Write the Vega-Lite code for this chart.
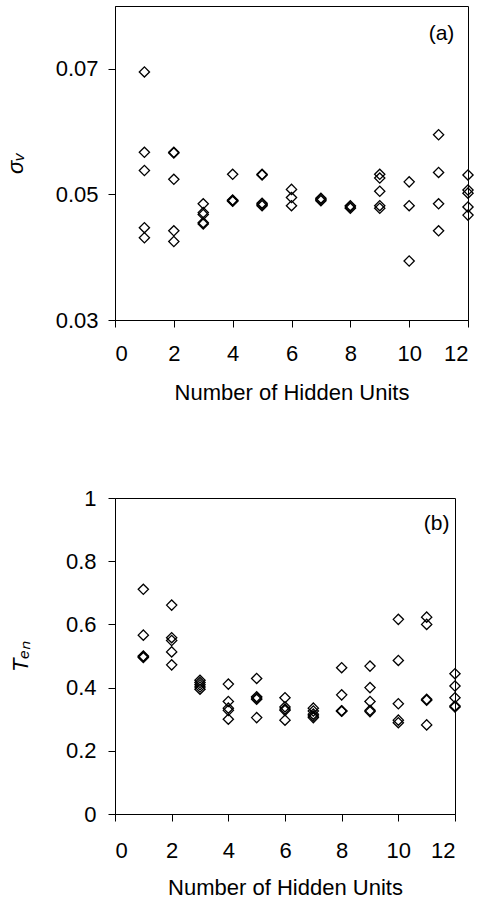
{
  "$schema": "https://vega.github.io/schema/vega-lite/v6.json",
  "background": "white",
  "padding": {"left": 3, "top": 5, "right": 5, "bottom": 5},
  "spacing": 82,
  "config": {
    "view": {"stroke": "black", "strokeWidth": 1},
    "font": "Liberation Sans",
    "axis": {
      "grid": false,
      "domainColor": "black",
      "tickColor": "black",
      "tickSize": 7,
      "labelColor": "black",
      "labelFont": "Liberation Sans",
      "labelFontSize": 22,
      "titleFont": "Liberation Sans",
      "titleFontSize": 22,
      "titleFontWeight": "normal",
      "titleColor": "black"
    }
  },
  "datasets": {
    "sigma": [
      {"units": 1, "sigma": 0.0695}, {"units": 1, "sigma": 0.0567}, {"units": 1, "sigma": 0.0538}, {"units": 1, "sigma": 0.0447}, {"units": 1, "sigma": 0.0431},
      {"units": 2, "sigma": 0.0567}, {"units": 2, "sigma": 0.0566}, {"units": 2, "sigma": 0.0524}, {"units": 2, "sigma": 0.0442}, {"units": 2, "sigma": 0.0425},
      {"units": 3, "sigma": 0.0485}, {"units": 3, "sigma": 0.0471}, {"units": 3, "sigma": 0.0468}, {"units": 3, "sigma": 0.0455}, {"units": 3, "sigma": 0.0453},
      {"units": 4, "sigma": 0.0532}, {"units": 4, "sigma": 0.0491}, {"units": 4, "sigma": 0.0490}, {"units": 4, "sigma": 0.0489}, {"units": 4, "sigma": 0.0490},
      {"units": 5, "sigma": 0.0532}, {"units": 5, "sigma": 0.0531}, {"units": 5, "sigma": 0.0486}, {"units": 5, "sigma": 0.0484}, {"units": 5, "sigma": 0.0482},
      {"units": 6, "sigma": 0.0508}, {"units": 6, "sigma": 0.0495}, {"units": 6, "sigma": 0.0482},
      {"units": 7, "sigma": 0.0494}, {"units": 7, "sigma": 0.0492}, {"units": 7, "sigma": 0.0490},
      {"units": 8, "sigma": 0.0482}, {"units": 8, "sigma": 0.0480}, {"units": 8, "sigma": 0.0478},
      {"units": 9, "sigma": 0.0532}, {"units": 9, "sigma": 0.0526}, {"units": 9, "sigma": 0.0505}, {"units": 9, "sigma": 0.0482}, {"units": 9, "sigma": 0.0478},
      {"units": 10, "sigma": 0.0520}, {"units": 10, "sigma": 0.0482}, {"units": 10, "sigma": 0.0394},
      {"units": 11, "sigma": 0.0595}, {"units": 11, "sigma": 0.0535}, {"units": 11, "sigma": 0.0485}, {"units": 11, "sigma": 0.0442},
      {"units": 12, "sigma": 0.0531}, {"units": 12, "sigma": 0.0507}, {"units": 12, "sigma": 0.0502}, {"units": 12, "sigma": 0.0480}, {"units": 12, "sigma": 0.0467}
    ],
    "ten": [
      {"units": 1, "ten": 0.711}, {"units": 1, "ten": 0.566}, {"units": 1, "ten": 0.500}, {"units": 1, "ten": 0.498}, {"units": 1, "ten": 0.495},
      {"units": 2, "ten": 0.661}, {"units": 2, "ten": 0.558}, {"units": 2, "ten": 0.549}, {"units": 2, "ten": 0.513}, {"units": 2, "ten": 0.472},
      {"units": 3, "ten": 0.423}, {"units": 3, "ten": 0.416}, {"units": 3, "ten": 0.409}, {"units": 3, "ten": 0.402}, {"units": 3, "ten": 0.395},
      {"units": 4, "ten": 0.411}, {"units": 4, "ten": 0.356}, {"units": 4, "ten": 0.335}, {"units": 4, "ten": 0.328}, {"units": 4, "ten": 0.300},
      {"units": 5, "ten": 0.429}, {"units": 5, "ten": 0.371}, {"units": 5, "ten": 0.367}, {"units": 5, "ten": 0.363}, {"units": 5, "ten": 0.305},
      {"units": 6, "ten": 0.368}, {"units": 6, "ten": 0.339}, {"units": 6, "ten": 0.332}, {"units": 6, "ten": 0.328}, {"units": 6, "ten": 0.297},
      {"units": 7, "ten": 0.335}, {"units": 7, "ten": 0.326}, {"units": 7, "ten": 0.316}, {"units": 7, "ten": 0.310}, {"units": 7, "ten": 0.305},
      {"units": 8, "ten": 0.463}, {"units": 8, "ten": 0.377}, {"units": 8, "ten": 0.327}, {"units": 8, "ten": 0.326}, {"units": 8, "ten": 0.325},
      {"units": 9, "ten": 0.468}, {"units": 9, "ten": 0.400}, {"units": 9, "ten": 0.356}, {"units": 9, "ten": 0.328}, {"units": 9, "ten": 0.324},
      {"units": 10, "ten": 0.616}, {"units": 10, "ten": 0.486}, {"units": 10, "ten": 0.349}, {"units": 10, "ten": 0.297}, {"units": 10, "ten": 0.289},
      {"units": 11, "ten": 0.623}, {"units": 11, "ten": 0.600}, {"units": 11, "ten": 0.363}, {"units": 11, "ten": 0.360}, {"units": 11, "ten": 0.282},
      {"units": 12, "ten": 0.444}, {"units": 12, "ten": 0.405}, {"units": 12, "ten": 0.368}, {"units": 12, "ten": 0.342}, {"units": 12, "ten": 0.339}
    ],
    "labelA": [{"label": "(a)", "units": 11.1, "sigma": 0.0755}],
    "labelB": [{"label": "(b)", "units": 11.35, "ten": 0.918}]
  },
  "vconcat": [
    {
      "width": 353,
      "height": 314,
      "layer": [
        {
          "data": {"name": "sigma"},
          "mark": {"type": "point", "shape": "diamond", "filled": false, "stroke": "black", "strokeWidth": 1.3, "size": 105, "opacity": 1},
          "encoding": {
            "x": {"field": "units", "type": "quantitative", "scale": {"domain": [0, 12], "nice": false},
                  "axis": {"values": [0, 2, 4, 6, 8, 10, 12], "title": "Number of Hidden Units", "labelPadding": 16, "titlePadding": 18}},
            "y": {"field": "sigma", "type": "quantitative", "scale": {"domain": [0.03, 0.08], "nice": false, "zero": false},
                  "axis": {"values": [0.03, 0.05, 0.07], "format": ".2f", "title": "σᵥ", "titleFontStyle": "italic", "labelPadding": 10, "titlePadding": 28}}
          }
        },
        {
          "data": {"name": "labelA"},
          "mark": {"type": "text", "font": "Liberation Sans", "fontSize": 21, "color": "black"},
          "encoding": {
            "x": {"field": "units", "type": "quantitative"},
            "y": {"field": "sigma", "type": "quantitative"},
            "text": {"field": "label"}
          }
        }
      ]
    },
    {
      "width": 340,
      "height": 316,
      "layer": [
        {
          "data": {"name": "ten"},
          "mark": {"type": "point", "shape": "diamond", "filled": false, "stroke": "black", "strokeWidth": 1.3, "size": 105, "opacity": 1},
          "encoding": {
            "x": {"field": "units", "type": "quantitative", "scale": {"domain": [0, 12], "nice": false},
                  "axis": {"values": [0, 2, 4, 6, 8, 10, 12], "title": "Number of Hidden Units", "labelPadding": 19, "titlePadding": 16}},
            "y": {"field": "ten", "type": "quantitative", "scale": {"domain": [0, 1], "nice": false},
                  "axis": {"values": [0, 0.2, 0.4, 0.6, 0.8, 1], "format": "~g", "title": "Tₑₙ", "titleFontStyle": "italic", "labelPadding": 12, "titlePadding": 33}}
          }
        },
        {
          "data": {"name": "labelB"},
          "mark": {"type": "text", "font": "Liberation Sans", "fontSize": 21, "color": "black"},
          "encoding": {
            "x": {"field": "units", "type": "quantitative"},
            "y": {"field": "ten", "type": "quantitative"},
            "text": {"field": "label"}
          }
        }
      ]
    }
  ]
}
